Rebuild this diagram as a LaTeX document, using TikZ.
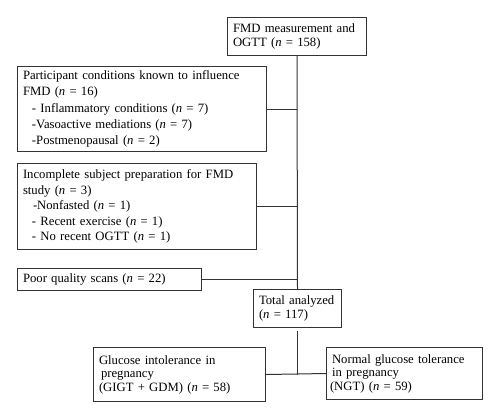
\documentclass[tikz,border=0pt]{standalone}
\usepackage{fontspec}
\setmainfont{Liberation Serif}
\usetikzlibrary{calc}
\newcommand{\nn}[1]{(\textit{n} = #1)}

\begin{document}
\begin{tikzpicture}[x=1pt,y=-1pt,
		flowbox/.style={draw=black!80, line width=1pt, anchor=north west, align=left,
			inner xsep=5.5pt, inner ysep=2pt, font=\fontsize{12.7}{16.2}\selectfont},
		link/.style={draw=black!80, line width=1pt}]
			%%%%% START %%%%%
			
			\useasboundingbox (0, 0) rectangle (500, 418);
			
			\node[flowbox, text width=128pt, minimum width=139pt, minimum height=38pt,
				font=\fontsize{12.7}{14.7}\selectfont] (measured) at (227, 17)
				{FMD measurement and\\OGTT \nn{158}};
			
			\node[flowbox, text width=238pt, minimum width=249pt, minimum height=85pt] (conditions) at (17, 66)
				{Participant conditions known to influence\\FMD \nn{16}\\
				\hspace*{9pt}- Inflammatory conditions \nn{7}\\
				\hspace*{9pt}-Vasoactive mediations \nn{7}\\
				\hspace*{9pt}-Postmenopausal \nn{2}};
			
			\node[flowbox, text width=228pt, minimum width=239pt, minimum height=86pt,
				font=\fontsize{12.7}{15.6}\selectfont] (preparation) at (17, 163)
				{Incomplete subject preparation for FMD\\study \nn{3}\\
				\hspace*{10pt}-Nonfasted \nn{1}\\
				\hspace*{9pt}- Recent exercise \nn{1}\\
				\hspace*{9pt}- No recent OGTT \nn{1}};
			
			\node[flowbox, text width=173pt, minimum width=184pt, minimum height=22pt] (scans) at (17, 268)
				{Poor quality scans \nn{22}};
			
			\node[flowbox, text width=77pt, minimum width=88pt, minimum height=38pt,
				font=\fontsize{12.7}{14.7}\selectfont] (total) at (253, 289)
				{Total analyzed\\\nn{117}};
			
			\node[flowbox, text width=161pt, minimum width=172pt, minimum height=54pt,
				font=\fontsize{12.7}{13.5}\selectfont] (intolerant) at (93, 347)
				{Glucose intolerance in\\\hspace*{2pt}pregnancy\\(GIGT + GDM) \nn{58}};
			
			\node[flowbox, text width=145pt, minimum width=156pt, minimum height=52pt,
				font=\fontsize{12.7}{13.5}\selectfont] (normal) at (326, 347)
				{Normal glucose tolerance\\in pregnancy\\\hspace*{-2pt}(NGT) \nn{59}};
			
			% trunk and side branches
			\draw[link] (measured.south) -- (total.north);
			\draw[link] (conditions.east) -- (conditions.east -| measured.south);
			\draw[link] (preparation.east) -- (preparation.east -| measured.south);
			\draw[link] (scans.east) -- (scans.east -| measured.south);
			
			% split into groups
			\draw[link] ($(total.south)+(0, 3)$) -- (total.south |- intolerant.east);
			\draw[link] (intolerant.east) -- (normal.west);
			
			%%%%% END %%%%%
		\end{tikzpicture}
\end{document}
